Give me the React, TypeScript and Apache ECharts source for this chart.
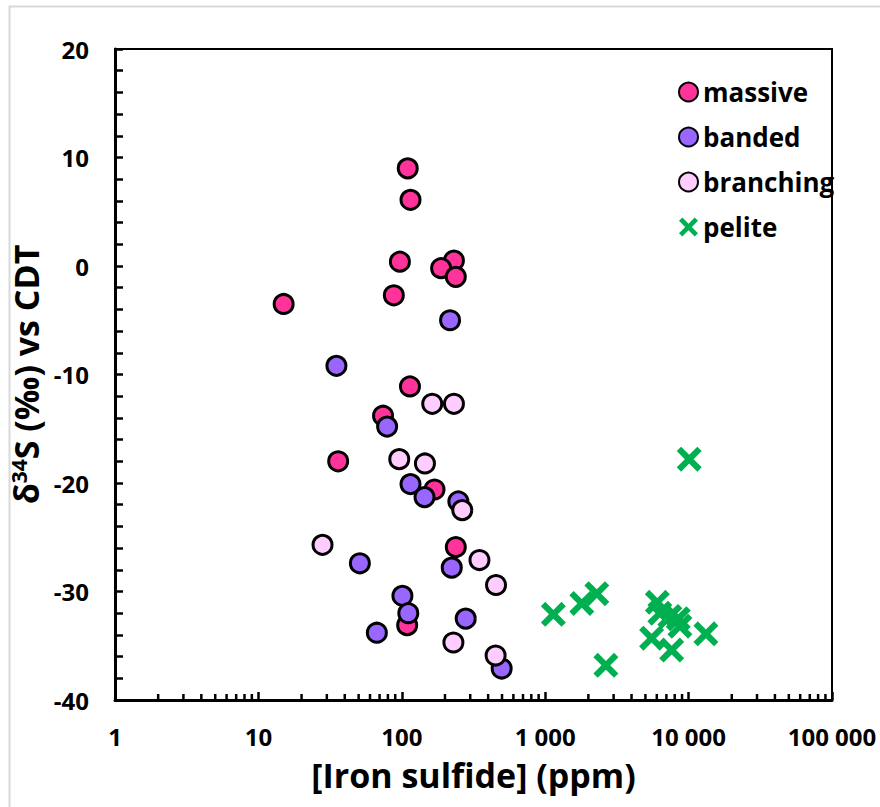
import React, { useEffect, useRef } from "react";
import * as echarts from "echarts";

// [iron sulfide ppm, delta34S permil]
const massive: number[][] = [
  [110, 9], [115, 6.1], [97, 0.4], [231, 0.5], [188, -0.2], [238, -1.0],
  [88, -2.7], [15, -3.5], [114, -11.1], [74, -13.8], [36, -18], [169, -20.6],
  [238, -25.9], [109, -33.1],
];
const banded: number[][] = [
  [217, -5], [35, -9.2], [79, -14.8], [115, -20.1], [144, -21.3], [248, -21.7],
  [51, -27.4], [223, -27.8], [101, -30.4], [111, -32], [67, -33.8], [279, -32.5],
  [497, -37.1],
];
const branching: number[][] = [
  [163, -12.7], [231, -12.7], [96, -17.8], [145, -18.2], [264, -22.5], [28, -25.7],
  [348, -27.1], [454, -29.4], [229, -34.7], [451, -35.9],
];
const pelite: number[][] = [
  [1140, -32.1], [1800, -31.1], [2290, -30.2], [2650, -36.8], [6050, -31.0],
  [6300, -32.0], [7400, -32.3], [8470, -32.5], [8700, -33.2], [5520, -34.3],
  [7620, -35.4], [13200, -33.9], [10100, -17.8],
];
const seriesNames = ["massive", "banded", "branching", "pelite"];
const decades = [1, 10, 100, 1000, 10000];
const minorMultipliers = [2, 3, 4, 5, 6, 7, 8, 9];
const minorTickValues: number[][] = [];
decades.forEach((d) => minorMultipliers.forEach((m) => minorTickValues.push([d * m, -40])));

const FONT = "Open Sans";
const crossPath =
  "path://M0,3.5 L3.5,0 L10,6.5 L16.5,0 L20,3.5 L13.5,10 L20,16.5 L16.5,20 L10,13.5 L3.5,20 L0,16.5 L6.5,10 Z";

function fmt(v: number): string {
  return String(Math.round(v)).replace(/\B(?=(\d{3})+(?!\d))/g, " ");
}

export default function App() {
  const ref = useRef<HTMLDivElement>(null);
  useEffect(() => {
    if (!ref.current) return;
    const chart = echarts.init(ref.current, null, { renderer: "svg" });
    const circleSeries = (name: string, data: number[][], color: string) => ({
      name,
      type: "scatter",
      data,
      symbol: "circle",
      symbolSize: 19,
      itemStyle: { color, borderColor: "#000", borderWidth: 3, opacity: 1 },
      z: 3,
    });
    chart.setOption({
      animation: false,
      backgroundColor: "#fff",
      graphic: [
        {
          type: "rect",
          silent: true,
          z: -10,
          shape: { x: 9.5, y: 6.5, width: 1000, height: 1000 },
          style: { fill: "none", stroke: "#d9d9d9", lineWidth: 2 },
        },
      ],
      grid: {
        left: 115,
        top: 49,
        right: 48,
        bottom: 107,
        show: true,
        borderColor: "#000",
        borderWidth: 2,
        backgroundColor: "transparent",
      },
      legend: {
        data: seriesNames,
        orient: "vertical",
        left: 673,
        top: 74,
        itemWidth: 19,
        itemHeight: 19,
        itemGap: 19,
        textStyle: { fontFamily: FONT, fontWeight: "bold", fontSize: 26, color: "#000" },
      },
      xAxis: {
        type: "log",
        logBase: 10,
        min: 1,
        max: 100000,
        name: "[Iron sulfide] (ppm)",
        nameLocation: "middle",
        nameGap: 58,
        nameTextStyle: { fontFamily: FONT, fontWeight: "bold", fontSize: 34, color: "#000" },
        axisLine: { show: true, onZero: false, lineStyle: { color: "#000", width: 3 } },
        axisTick: { show: true, inside: true, length: 8, lineStyle: { color: "#000", width: 2.5 } },
        axisLabel: {
          margin: 24,
          fontFamily: FONT,
          fontWeight: "bold",
          fontSize: 24,
          color: "#000",
          formatter: (v: number) => fmt(v),
        },
        splitLine: { show: false },
      },
      yAxis: {
        type: "value",
        min: -40,
        max: 20,
        interval: 10,
        name: "{d|δ}{s|34}{d|S (‰) vs CDT}",
        nameLocation: "middle",
        nameRotate: 90,
        nameGap: 54,
        nameTextStyle: {
          fontFamily: FONT,
          fontWeight: "bold",
          fontSize: 34,
          color: "#000",
          rich: {
            d: { fontFamily: FONT, fontWeight: "bold", fontSize: 34, color: "#000" },
            s: { fontFamily: FONT, fontWeight: "bold", fontSize: 21, color: "#000", verticalAlign: "top" },
          },
        },
        axisLine: { show: true, onZero: false, lineStyle: { color: "#000", width: 3 } },
        axisTick: { show: true, inside: true, length: 8, lineStyle: { color: "#000", width: 2.5 } },
        minorTick: { show: true, splitNumber: 5, length: 8, lineStyle: { color: "#000", width: 2.5 } },
        axisLabel: {
          margin: 26,
          fontFamily: FONT,
          fontWeight: "bold",
          fontSize: 24,
          color: "#000",
        },
        splitLine: { show: false },
        minorSplitLine: { show: false },
      },
      series: [
        circleSeries("massive", massive, "#FF3399"),
        circleSeries("banded", banded, "#9966FF"),
        circleSeries("branching", branching, "#FFCCFF"),
        {
          name: "pelite",
          type: "scatter",
          data: pelite,
          symbol: crossPath,
          symbolSize: 25,
          itemStyle: { color: "#00B050", opacity: 1 },
          z: 4,
        },
        {
          name: "minorTicks",
          type: "custom",
          silent: true,
          data: minorTickValues,
          z: 5,
          renderItem: (_params: any, api: any) => {
            const p = api.coord([api.value(0), api.value(1)]);
            return {
              type: "line",
              shape: { x1: p[0], y1: p[1], x2: p[0], y2: p[1] - 6 },
              style: { stroke: "#000", lineWidth: 2.5 },
            };
          },
        },
      ],
    });
    return () => chart.dispose();
  }, []);
  return (
    <div
      ref={ref}
      style={{ position: "fixed", left: 0, top: 0, width: 880, height: 807 }}
    />
  );
}
